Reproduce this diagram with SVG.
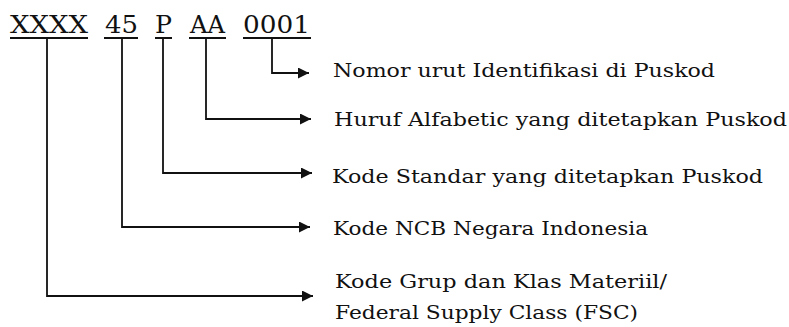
<svg xmlns="http://www.w3.org/2000/svg" width="789" height="327" viewBox="0 0 789 327">
<style>
.code{font-family:"DejaVu Serif","Liberation Serif",serif;font-size:24px;fill:#111}
.lbl{font-family:"DejaVu Serif","Liberation Serif",serif;font-size:19px;fill:#111}
.ul{stroke:#111;stroke-width:2;fill:none}
.con{stroke:#111;stroke-width:1.8;fill:none;marker-end:url(#ah)}
</style>
<defs>
<marker id="ah" viewBox="0 0 10 10" refX="10" refY="5" markerUnits="userSpaceOnUse" markerWidth="12" markerHeight="11" orient="auto">
<path d="M0,0 L10,5 L0,10 Z" fill="#111"/>
</marker>
</defs>
<rect width="789" height="327" fill="#fff"/>
<g id="code">
<text class="code" x="10" y="33" textLength="78" lengthAdjust="spacingAndGlyphs">XXXX</text>
<text class="code" x="105" y="33" textLength="33" lengthAdjust="spacingAndGlyphs">45</text>
<text class="code" x="155" y="33" textLength="17" lengthAdjust="spacingAndGlyphs">P</text>
<text class="code" x="190" y="33" textLength="35" lengthAdjust="spacingAndGlyphs">AA</text>
<text class="code" x="243" y="33" textLength="67" lengthAdjust="spacingAndGlyphs">0001</text>
<line class="ul" x1="10" y1="38" x2="88" y2="38"/>
<line class="ul" x1="104" y1="38" x2="138" y2="38"/>
<line class="ul" x1="155" y1="38" x2="172" y2="38"/>
<line class="ul" x1="189" y1="38" x2="226" y2="38"/>
<line class="ul" x1="243" y1="38" x2="311" y2="38"/>
</g>
<g id="connectors">
<polyline class="con" points="272,38 272,73 309,73"/>
<polyline class="con" points="206,38 206,119 311,119"/>
<polyline class="con" points="163,38 163,173 312,173"/>
<polyline class="con" points="122,38 122,227 310,227"/>
<polyline class="con" points="47,38 47,296 313,296"/>
</g>
<g id="n1"><text class="lbl" x="333" y="77" textLength="382" lengthAdjust="spacingAndGlyphs">Nomor urut Identifikasi di Puskod</text></g>
<g id="n2"><text class="lbl" x="334" y="126" textLength="453" lengthAdjust="spacingAndGlyphs">Huruf Alfabetic yang ditetapkan Puskod</text></g>
<g id="n3"><text class="lbl" x="332" y="183" textLength="431" lengthAdjust="spacingAndGlyphs">Kode Standar yang ditetapkan Puskod</text></g>
<g id="n4"><text class="lbl" x="333" y="235" textLength="315" lengthAdjust="spacingAndGlyphs">Kode NCB Negara Indonesia</text></g>
<g id="n5">
<text class="lbl" x="335" y="288" textLength="332" lengthAdjust="spacingAndGlyphs">Kode Grup dan Klas Materiil/</text>
<text class="lbl" x="335" y="319" textLength="303" lengthAdjust="spacingAndGlyphs">Federal Supply Class (FSC)</text>
</g>
</svg>
